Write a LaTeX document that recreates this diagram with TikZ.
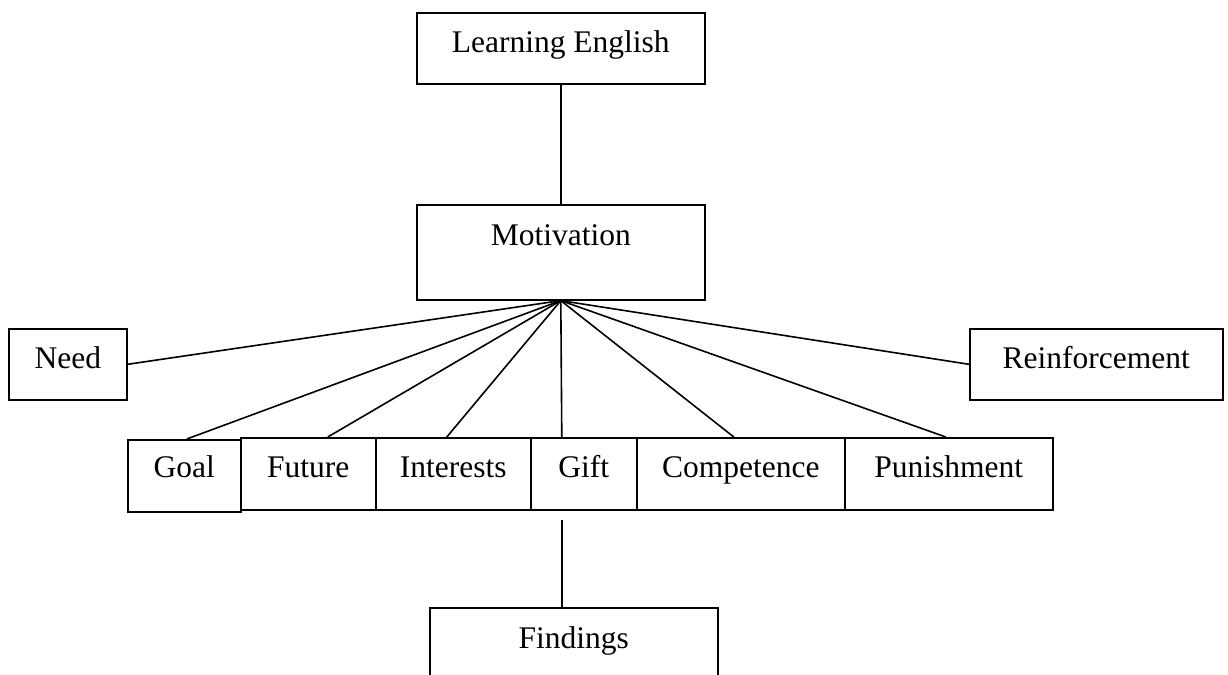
\documentclass[tikz,border=0pt]{standalone}
\usepackage{fontspec}
\setmainfont{Liberation Serif}
\usetikzlibrary{calc}
\begin{document}
\begin{tikzpicture}[x=0.5pt,y=-0.5pt,
  box/.style={draw, line width=0.8pt, inner sep=0pt, anchor=north west,
    font=\fontsize{15.75}{18}\selectfont},
  link/.style={line width=0.8pt}]
\useasboundingbox (0,0) rectangle (1228,675);
\clip (0,0) rectangle (1228,675);
\node[box, minimum width=144pt, text height=20pt, text depth=15.5pt] (le) at (416,12) {Learning English};
\node[box, minimum width=144pt, text height=20.5pt, text depth=27pt] (mot) at (416,204) {Motivation};
\node[box, minimum width=59pt, text height=20pt, text depth=15.5pt] (need) at (8,328) {Need};
\node[box, minimum width=126.5pt, text height=20pt, text depth=15.5pt] (reinf) at (969,328) {Reinforcement};
\node[box, minimum width=56.5pt, text height=19pt, text depth=17pt] (goal) at (127,439) {Goal};
\node[box, minimum width=67.5pt, text height=20pt, text depth=16pt] (future) at (240,437) {Future};
\node[box, minimum width=77.5pt, text height=20pt, text depth=16pt] (interests) at (375,437) {Interests};
\node[box, minimum width=53pt, text height=20pt, text depth=16pt] (gift) at (530,437) {Gift};
\node[box, minimum width=104pt, text height=20pt, text depth=16pt] (comp) at (636,437) {Competence};
\node[box, minimum width=104pt, text height=20pt, text depth=16pt] (pun) at (844,437) {Punishment};
\node[box, minimum width=144pt, text height=20.5pt, text depth=40pt] (find) at (429,607) {Findings};
\coordinate (hub) at (mot.south);
\draw[link] (le.south) -- (mot.north);
\draw[link] (hub) -- (need.east);
\draw[link] (hub) -- (reinf.west);
\draw[link] (hub) -- ($(goal.north)+(2.5,0)$);
\draw[link] (hub) -- ($(future.north)+(19.5,0)$);
\draw[link] (hub) -- ($(interests.north)+(-6.5,0)$);
\draw[link] (hub) -- ($(gift.north)+(-22,0)$);
\draw[link] (hub) -- ($(comp.north)+(-7,0)$);
\draw[link] (hub) -- ($(pun.north)+(-3,0)$);
\coordinate (gb) at ($(gift.south)+(-22,9)$);
\draw[link] (gb) -- ($(find.north)+(-12,0)$);
\end{tikzpicture}
\end{document}
